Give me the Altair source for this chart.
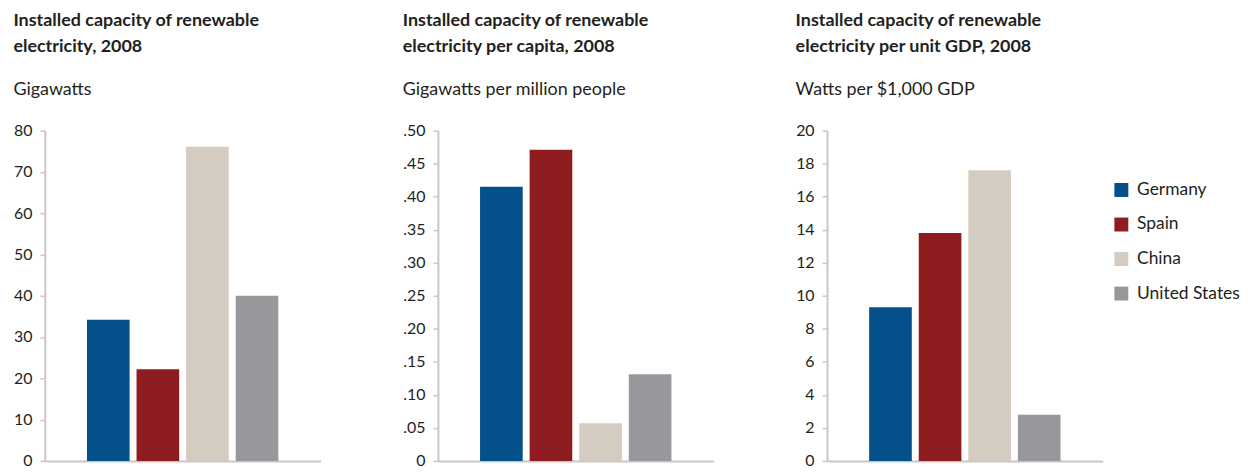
import altair as alt
import pandas as pd

countries = ["Germany", "Spain", "China", "United States"]
colors = ["#03508a", "#8f1c1f", "#d4ccc0", "#98989c"]
gigawatts = [34.2, 22.2, 76.1, 40.0]
per_capita = [0.415, 0.471, 0.057, 0.131]
per_gdp = [9.3, 13.8, 17.6, 2.8]

titles = [
    ["Installed capacity of renewable", "electricity, 2008"],
    ["Installed capacity of renewable", "electricity per capita, 2008"],
    ["Installed capacity of renewable", "electricity per unit GDP, 2008"],
]
subtitles = ["Gigawatts", "Gigawatts per million people", "Watts per $1,000 GDP"]

FONT = "Lato"
TEXT = "#231f20"
AXIS = "#c8c8c8"


def panel(values, domain, step, title, subtitle, label_expr=None, legend=False):
    df = pd.DataFrame({"country": countries, "value": values})
    axis_kwargs = dict(
        title=None,
        values=[round(i * step, 4) for i in range(int(round(domain / step)) + 1)],
        grid=False,
        domainColor=AXIS,
        domainWidth=2,
        tickColor=AXIS,
        tickWidth=1.5,
        tickSize=5,
        labelPadding=8,
        labelFontSize=16,
        labelColor=TEXT,
        labelFont=FONT,
    )
    if label_expr:
        axis_kwargs["labelExpr"] = label_expr
    yaxis = alt.Axis(**axis_kwargs)
    if legend:
        leg = alt.Legend(
            title=None,
            orient="none",
            legendX=287,
            legendY=51,
            symbolType="square",
            symbolSize=196,
            symbolStrokeWidth=0,
            symbolOpacity=1,
            labelFontSize=17.5,
            labelFont=FONT,
            labelColor=TEXT,
            labelOffset=7,
            rowPadding=15.7,
        )
    else:
        leg = None
    color = alt.Color(
        "country:N",
        scale=alt.Scale(domain=countries, range=colors),
        sort=countries,
        legend=leg,
    )
    return (
        alt.Chart(df)
        .mark_bar()
        .encode(
            x=alt.X(
                "country:N",
                sort=countries,
                scale=alt.Scale(paddingInner=0.14, paddingOuter=0.85),
                axis=alt.Axis(
                    title=None,
                    labels=False,
                    ticks=False,
                    domainColor=AXIS,
                    domainWidth=2,
                ),
            ),
            y=alt.Y(
                "value:Q",
                scale=alt.Scale(domain=[0, domain], nice=False, zero=True),
                axis=yaxis,
            ),
            color=color,
        )
        .properties(
            width=277,
            height=332,
            title=alt.TitleParams(
                text=title,
                subtitle=subtitle,
                anchor="start",
                font=FONT,
                fontSize=18,
                fontWeight="bold",
                color=TEXT,
                lineHeight=26,
                subtitleFont=FONT,
                subtitleFontSize=18,
                subtitleColor=TEXT,
                subtitlePadding=25,
                offset=24,
            ),
        )
    )


p1 = panel(gigawatts, 80, 10, titles[0], subtitles[0])
p2 = panel(
    per_capita, 0.5, 0.05, titles[1], subtitles[1],
    label_expr="datum.value == 0 ? '0' : substring(format(datum.value, '.2f'), 1)",
)
p3 = panel(per_gdp, 20, 2, titles[2], subtitles[2], legend=True)

chart = (
    alt.hconcat(p1, p2, p3, spacing=82)
    .resolve_legend(color="independent")
    .properties(padding={"left": 5, "top": 3, "right": 5, "bottom": 0})
    .configure_view(strokeWidth=0, stroke="transparent")
)

chart.save("out.html", embed_options={"renderer": "svg", "actions": False})
